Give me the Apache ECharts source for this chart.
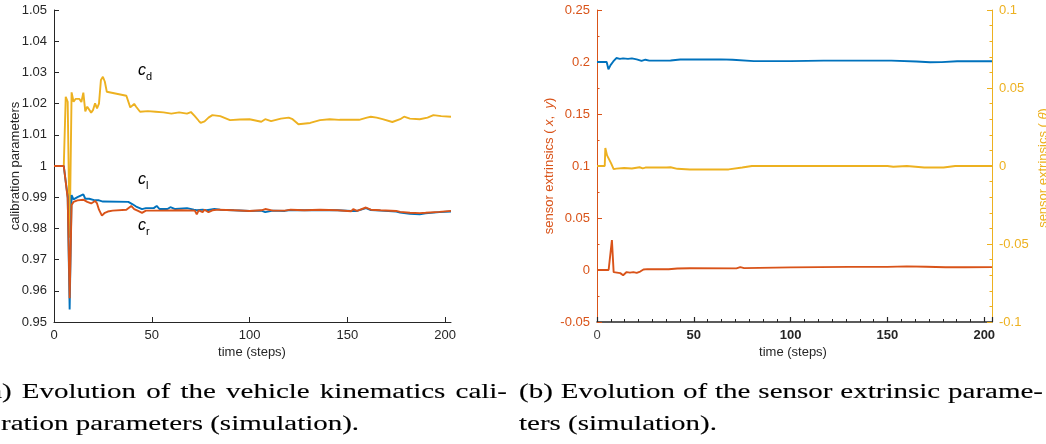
<!DOCTYPE html>
<html><head><meta charset="utf-8">
<script src="https://cdn.jsdelivr.net/npm/echarts@6/dist/echarts.min.js"></script>
<style>html,body{margin:0;padding:0;background:#fff}#c{width:1046px;height:444px}</style>
</head><body><div id="c"></div>
<script>
// ---------- DATA ----------
const xTicks = [0, 50, 100, 150, 200];
// (a) vehicle kinematics calibration parameters: [time step, value]
const cdData = [[0,1.0],[5,1.0],[6,1.0222],[7,1.0206],[8,0.977],[9,1.0236],[10,1.0206],[11,1.0215],[12,1.021],[13,1.0215],[14,1.0205],[15,1.0235],[16,1.0175],[17,1.019],[18,1.019],[19,1.0171],[20,1.018],[21,1.0201],[22,1.0185],[23,1.02],[24,1.0276],[25,1.0286],[26,1.027],[27,1.0238],[37,1.0225],[38,1.022],[39,1.0188],[40,1.0186],[41,1.0199],[42,1.019],[43,1.0184],[44,1.0174],[48,1.0176],[52,1.0174],[56,1.0172],[60,1.0168],[64,1.0172],[68,1.0168],[70,1.0173],[72,1.016],[74,1.0145],[75,1.0138],[77,1.0143],[79,1.0155],[81,1.0163],[85,1.016],[90,1.0147],[95,1.0149],[100,1.015],[106,1.0142],[108,1.015],[111,1.0144],[116,1.0152],[120,1.0155],[122,1.015],[125,1.0134],[131,1.0138],[136,1.0147],[141,1.015],[146,1.0148],[156,1.0148],[160,1.0155],[162,1.0158],[165,1.0155],[168,1.015],[173,1.0141],[177,1.015],[179,1.0158],[182,1.0152],[187,1.015],[191,1.0155],[194,1.0163],[198,1.016],[203,1.0158]];
const clData = [[0,1.0],[5,1.0],[7,0.99],[8,0.954],[9,0.9907],[10,0.9893],[12,0.99],[15,0.9909],[16,0.9895],[18,0.9895],[21,0.989],[23,0.989],[25,0.9886],[38,0.9885],[40,0.9878],[42,0.987],[45,0.9862],[47,0.9865],[51,0.9865],[52.5,0.9872],[54,0.9862],[58,0.9862],[59.5,0.9868],[62,0.9862],[68,0.9865],[71.5,0.986],[73,0.9858],[74,0.9852],[76,0.986],[78,0.9858],[82,0.9862],[85,0.986],[92,0.9858],[100,0.9856],[106,0.9857],[108,0.9852],[112,0.9857],[118,0.9856],[121,0.9859],[128,0.9858],[136,0.9859],[145,0.9858],[152,0.9856],[153,0.9861],[155,0.9856],[159.5,0.9865],[162,0.9859],[163,0.9861],[167,0.9857],[175,0.9854],[177,0.9851],[182,0.9847],[187,0.9845],[190,0.9848],[197,0.9852],[203,0.9854]];
const crData = [[0,1.0],[5,1.0],[7,0.9897],[8,0.9576],[9,0.9875],[10,0.9885],[12,0.989],[15,0.9892],[17,0.9885],[19,0.988],[21,0.9888],[22,0.988],[23,0.986],[24.5,0.9841],[26,0.985],[27.5,0.9854],[30,0.9857],[37,0.986],[38,0.9865],[39.5,0.9872],[41,0.9862],[43,0.9856],[45,0.985],[47,0.9857],[55,0.9857],[65,0.9858],[72,0.9857],[73,0.9845],[74,0.9858],[76,0.9852],[77,0.986],[79,0.9852],[81,0.9858],[84,0.986],[92,0.9858],[100,0.9856],[106,0.9858],[108,0.9862],[112,0.9857],[118,0.9857],[121,0.986],[128,0.9858],[136,0.986],[145,0.9858],[152,0.9855],[153,0.9862],[155,0.9856],[159.5,0.9867],[162,0.986],[163,0.9863],[167,0.9858],[175,0.9856],[177,0.9853],[182,0.985],[187,0.9849],[190,0.985],[197,0.9853],[203,0.9856]];
// (b) sensor extrinsics
const sxData = [[0,0.2],[5,0.2],[5.9,0.193],[7,0.197],[8.4,0.2005],[10,0.2038],[11.8,0.203],[13.5,0.2035],[16,0.203],[18,0.2035],[20.5,0.2025],[23,0.201],[25,0.2022],[27,0.2013],[38,0.2015],[43,0.2024],[64,0.2025],[70,0.2022],[81,0.2008],[100,0.2008],[117,0.2013],[152,0.2013],[165,0.2005],[172,0.1998],[178,0.1999],[186,0.2007],[204,0.2007]];
const syData = [[0,0],[6,0],[6.5,-0.0016],[7.7,0.0288],[8.6,-0.002],[9.5,-0.003],[12,-0.003],[12.7,-0.004],[13.5,-0.005],[14.4,-0.0035],[15.3,-0.002],[17,-0.0025],[18.8,-0.002],[20.5,-0.0028],[22.3,-0.0015],[24,0.0005],[26,0.0008],[37,0.0007],[41.5,0.0015],[48,0.0017],[72,0.0016],[74,0.0028],[76,0.0018],[100,0.0025],[130,0.003],[150,0.003],[160,0.0035],[170,0.0031],[180,0.0027],[190,0.0026],[204,0.0028]];
const sthData = [[0,0],[4,0],[4.3,0.0115],[5.2,0.0068],[6.1,0.006],[7.3,0.0017],[8.6,-0.002],[10,-0.0017],[14,-0.0013],[18,-0.0016],[22,-0.0008],[23.6,-0.0015],[25,-0.001],[36,-0.001],[38,-0.0008],[41.5,-0.0018],[48,-0.0022],[68,-0.0022],[75,-0.001],[80,0],[100,0],[150,0],[153,-0.0005],[160,0],[169,-0.001],[179,-0.001],[185,0],[204,0]];

const captionA1 = '(a) Evolution of the vehicle kinematics cali-';
const captionA2 = 'bration parameters (simulation).';
const captionB1 = '(b) Evolution of the sensor extrinsic parame-';
const captionB2 = 'ters (simulation).';

// ---------- STYLE ----------
const BLUE = '#0072BD', ORANGE = '#D95319', YELLOW = '#EDB120', AX = '#262626';
const SANS = '"Liberation Sans", Arial, Helvetica, sans-serif';
const SERIF = '"Liberation Serif", "Times New Roman", serif';
const FS = 13;

const chart = echarts.init(document.getElementById('c'), null, {renderer: 'canvas'});

function fmt(v) { return String(+(+v).toFixed(3)); }

const xAxisA = {
  type: 'value', gridIndex: 0, min: 0, max: 203, interval: 50,
  axisLine: {show: true, onZero: false, lineStyle: {color: AX, width: 1}},
  axisTick: {show: true, inside: true, length: 5, customValues: xTicks, lineStyle: {color: AX}},
  axisLabel: {customValues: xTicks, margin: 7, color: AX, fontFamily: SANS, fontSize: FS},
  splitLine: {show: false}
};
const xAxisB = {
  type: 'value', gridIndex: 1, min: 0, max: 204, interval: 50, position: 'bottom',
  axisLine: {show: true, onZero: false, lineStyle: {color: AX, width: 1.5}},
  axisTick: {show: true, inside: true, length: 5, lineStyle: {color: AX, width: 1.2}},
  minorTick: {show: true, splitNumber: 7, length: 3, lineStyle: {color: AX, width: 1}},
  axisLabel: {
    showMaxLabel: false, margin: 7, color: AX, fontFamily: SANS, fontSize: FS,
    formatter: v => (v > 200 ? '' : (v === 0 ? '{n|0}' : '{b|' + v + '}')),
    rich: {n: {fontFamily: SANS, fontSize: FS, color: '#444'}, b: {fontFamily: SANS, fontSize: FS, fontWeight: 'bold', color: AX}}
  },
  splitLine: {show: false}
};
function yAxisOpt(gi, min, max, interval, color, pos, minorSplit) {
  return {
    type: 'value', gridIndex: gi, min: min, max: max, interval: interval, position: pos,
    axisLine: {show: true, onZero: false, lineStyle: {color: color, width: 1}},
    axisTick: {show: true, inside: true, length: 5, lineStyle: {color: color}},
    minorTick: {show: minorSplit > 0, splitNumber: minorSplit || 5, length: 2.5, lineStyle: {color: color}},
    axisLabel: {margin: 7, color: color, fontFamily: SANS, fontSize: FS, formatter: fmt},
    splitLine: {show: false}
  };
}
function line(name, data, color, xi, yi) {
  return {name, type: 'line', data, xAxisIndex: xi, yAxisIndex: yi, showSymbol: false, symbol: 'none',
    lineStyle: {color, width: 1.9}, itemStyle: {color}, animation: false, z: 3};
}

// ---------- CAPTIONS (justified, measured) ----------
const ctx = document.createElement('canvas').getContext('2d');
const CFS = 21;
const CFONT = CFS + 'px ' + SERIF;
ctx.font = CFONT;
const SX = 198 / ctx.measureText(captionB2).width;
const graphics = [];
function captionLine(text, x0, x1, y, justify) {
  const words = text.split(' ');
  const ws = words.map(w => ctx.measureText(w).width * SX);
  let gap = ctx.measureText(' ').width * SX;
  if (justify) gap = (x1 - x0 - ws.reduce((a, b) => a + b, 0)) / (words.length - 1);
  let x = x0;
  words.forEach((w, i) => {
    graphics.push({type: 'text', x: x, y: y, scaleX: SX, silent: true,
      style: {text: w, font: CFONT, fill: '#000', stroke: '#000', lineWidth: 0.12, align: 'left', verticalAlign: 'middle', textAlign: 'left', textVerticalAlign: 'middle'}});
    x += ws[i] + gap;
  });
}
const wA = ctx.measureText('(a').width * SX;
const wB = ctx.measureText('b').width * SX;
captionLine(captionA1, 2 - wA, 507, 392, true);
captionLine(captionA2, 1 - wB, 0, 424, false);
captionLine(captionB1, 519, 1043, 392, true);
captionLine(captionB2, 519, 0, 424, false);

// ---------- AXIS NAMES & ANNOTATIONS ----------
function txt(x, y, text, color, rot, extra) {
  return Object.assign({type: 'text', x, y, rotation: rot || 0, silent: true,
    style: Object.assign({text, fill: color, font: FS + 'px ' + SANS, align: 'center', verticalAlign: 'middle', textAlign: 'center', textVerticalAlign: 'middle'}, extra || {})});
}
graphics.push(txt(15, 166, 'calibration parameters', AX, Math.PI / 2));
graphics.push(txt(252, 352, 'time (steps)', AX, 0));
graphics.push(txt(793, 352, 'time (steps)', AX, 0));
graphics.push(txt(549, 166, '{n|sensor extrinsics ( }{i|x}{n|,  }{i|y}{n|)}', ORANGE, Math.PI / 2, {
  rich: {n: {fontFamily: SANS, fontSize: FS, color: ORANGE}, i: {fontFamily: SANS, fontSize: FS, fontStyle: 'italic', color: ORANGE}}
}));
graphics.push(txt(1043, 168, '{n|sensor extrinsics ( }{i|θ}{n|)}', YELLOW, Math.PI / 2, {
  rich: {n: {fontFamily: SANS, fontSize: FS, color: YELLOW}, i: {fontFamily: SANS, fontSize: FS, fontStyle: 'italic', color: YELLOW}}
}));
function cLabel(x, y, sub) {
  graphics.push({type: 'text', x: x, y: y, silent: true, style: {text: 'c', font: 'italic 16px ' + SANS, fill: '#000', align: 'center', verticalAlign: 'middle', textAlign: 'center', textVerticalAlign: 'middle'}});
  graphics.push({type: 'text', x: x + 4, y: y + 6, silent: true, style: {text: sub, font: '11px ' + SANS, fill: '#000', align: 'left', verticalAlign: 'middle', textAlign: 'left', textVerticalAlign: 'middle'}});
}
cLabel(142, 71, 'd');
cLabel(142, 180, 'l');
cLabel(142, 226, 'r');

// ---------- OPTION ----------
chart.setOption({
  animation: false,
  backgroundColor: '#fff',
  grid: [
    {left: 54, top: 10, width: 397, height: 312},
    {left: 597, top: 10, width: 395, height: 312}
  ],
  xAxis: [xAxisA, xAxisB],
  yAxis: [
    yAxisOpt(0, 0.95, 1.05, 0.01, AX, 'left', 0),
    yAxisOpt(1, -0.05, 0.25, 0.05, ORANGE, 'left', 2),
    yAxisOpt(1, -0.1, 0.1, 0.05, YELLOW, 'right', 5)
  ],
  series: [
    line('c_d', cdData, YELLOW, 0, 0),
    line('c_l', clData, BLUE, 0, 0),
    line('c_r', crData, ORANGE, 0, 0),
    line('x', sxData, BLUE, 1, 1),
    line('theta', sthData, YELLOW, 1, 2),
    line('y', syData, ORANGE, 1, 1)
  ],
  graphic: {elements: graphics}
});
</script></body></html>
